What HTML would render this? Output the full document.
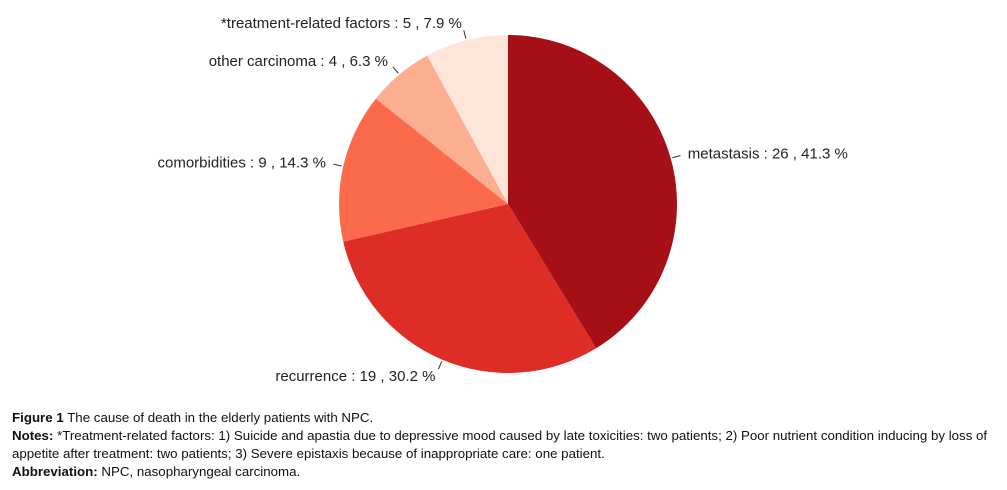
<!DOCTYPE html>
<html><head><meta charset="utf-8"><style>
body{margin:0;background:#fff;width:1007px;height:490px;overflow:hidden;font-family:"Liberation Sans",sans-serif}
#cap{position:absolute;left:12px;top:409px;font-size:13.3px;line-height:18px;color:#111;width:990px}
</style></head><body>
<svg id="chart" width="1007" height="400" style="position:absolute;left:0;top:0"></svg>
<div id="cap">
<div><b>Figure 1</b> The cause of death in the elderly patients with NPC.</div>
<div><b>Notes:</b> *Treatment-related factors: 1) Suicide and apastia due to depressive mood caused by late toxicities: two patients; 2) Poor nutrient condition inducing by loss of appetite after treatment: two patients; 3) Severe epistaxis because of inappropriate care: one patient.</div>
<div><b>Abbreviation:</b> NPC, nasopharyngeal carcinoma.</div>
</div>
<script>
const categories=["metastasis","recurrence","comorbidities","other carcinoma","*treatment-related factors"];
const counts=[26,19,9,4,5];
const percents=["41.3","30.2","14.3","6.3","7.9"];
const colors=["#a50f15","#de2d26","#fb6a4a","#fcae91","#fee5d9"];
const svg=document.getElementById('chart');
const NS="http://www.w3.org/2000/svg";
const cx=508,cy=204,r=169;
const total=counts.reduce((a,b)=>a+b,0);
function pt(frac,rad){const a=frac*2*Math.PI;return [cx+rad*Math.sin(a),cy-rad*Math.cos(a)];}
let acc=0;
counts.forEach((v,i)=>{
 const f0=acc/total,f1=(acc+v)/total;acc+=v;
 const [x0,y0]=pt(f0,r),[x1,y1]=pt(f1,r);
 const large=(f1-f0)>0.5?1:0;
 const p=document.createElementNS(NS,'path');
 p.setAttribute('d',`M${cx},${cy}L${x0},${y0}A${r},${r} 0 ${large} 1 ${x1},${y1}Z`);
 p.setAttribute('fill',colors[i]);
 
 
 svg.appendChild(p);
 const fm=(f0+f1)/2;
 const [tx0,ty0]=pt(fm,r*1.01),[tx1,ty1]=pt(fm,r*1.06);
 const l=document.createElementNS(NS,'line');
 l.setAttribute('x1',tx0);l.setAttribute('y1',ty0);l.setAttribute('x2',tx1);l.setAttribute('y2',ty1);
 l.setAttribute('stroke','#333');l.setAttribute('stroke-width','1');
 
 
 svg.appendChild(l);
 const [lx,ly]=pt(fm,r*1.105);
 const t=document.createElementNS(NS,'text');
 t.setAttribute('x',lx);t.setAttribute('y',ly+5);
 t.setAttribute('font-size','15');t.setAttribute('fill','#222');
 t.setAttribute('font-family','Liberation Sans, sans-serif');
 t.setAttribute('text-anchor',Math.sin(fm*2*Math.PI)>=0?'start':'end');
 t.textContent=categories[i]+' : '+v+' , '+percents[i]+' %';
 
 
 svg.appendChild(t);
});
</script>
</body></html>
